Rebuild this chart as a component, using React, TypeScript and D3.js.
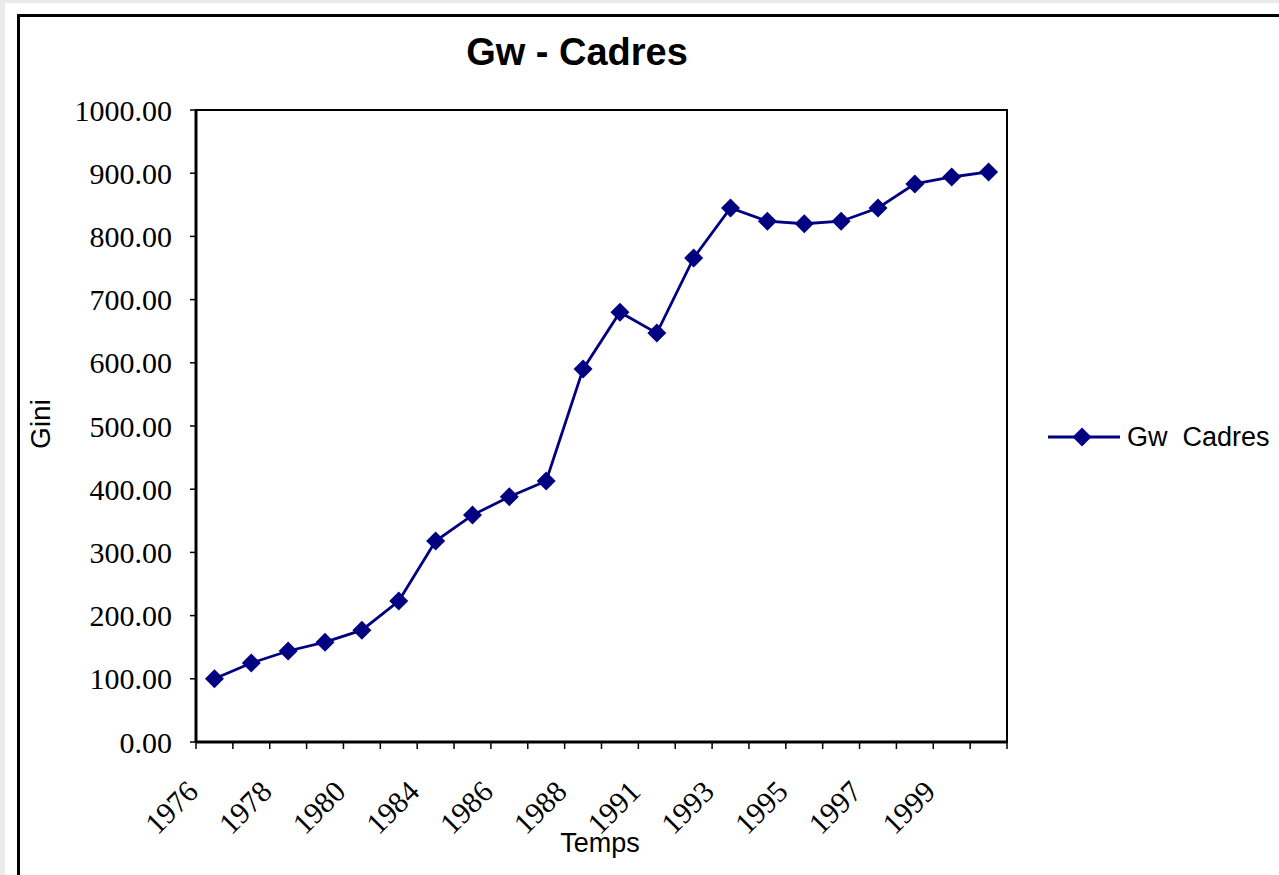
import React from 'react';
import * as d3 from 'd3';

const years = [
  '1976', '1977', '1978', '1979', '1980', '1982', '1984', '1985', '1986', '1987', '1988',
  '1989', '1991', '1992', '1993', '1994', '1995', '1996', '1997', '1998', '1999', '2000',
];
const gwCadres = [
  100, 125, 144, 158, 177, 223, 318, 359, 388, 413, 590,
  680, 647, 766, 845, 824, 820, 824, 845, 883, 894, 902,
];
const yTicks = [0, 100, 200, 300, 400, 500, 600, 700, 800, 900, 1000];
const shownYears = ['1976', '1978', '1980', '1984', '1986', '1988', '1991', '1993', '1995', '1997', '1999'];

const W = 1279;
const H = 875;
const plot = { left: 196, right: 1007, top: 110, bottom: 742 };
const NAVY = '#000080';

function diamond(cx: number, cy: number, r: number) {
  return `M${cx},${cy - r}L${cx + r},${cy}L${cx},${cy + r}L${cx - r},${cy}Z`;
}

export default function App() {
  const x = d3.scaleBand<string>().domain(years).range([plot.left, plot.right]).padding(0);
  const y = d3.scaleLinear().domain([0, 1000]).range([plot.bottom, plot.top]);
  const cx = (yr: string) => (x(yr) as number) + x.bandwidth() / 2;

  const line = d3
    .line<number>()
    .x((d, i) => cx(years[i]))
    .y(d => y(d));

  // tick positions at the band boundaries
  const xTicks = years.map(yr => x(yr) as number).concat([plot.right]);

  return (
    <div style={{ position: 'fixed', left: 0, top: 0, width: W, height: H, background: '#ebebeb' }}>
      <svg width={W} height={H} style={{ display: 'block' }}>
        <rect x={5} y={3} width={W} height={H} fill="#fff" />
        <rect x={18.5} y={15.5} width={W + 20} height={H + 20} fill="none" stroke="#000" strokeWidth={3} />

        <text
          x={577}
          y={65}
          textAnchor="middle"
          fontFamily="'Liberation Sans', Arial, sans-serif"
          fontWeight="bold"
          fontSize={38}
        >
          Gw - Cadres
        </text>

        {/* plot frame */}
        <rect
          x={plot.left}
          y={plot.top}
          width={plot.right - plot.left}
          height={plot.bottom - plot.top}
          fill="#fff"
          stroke="#000"
          strokeWidth={2}
        />
        <line x1={plot.left} x2={plot.left} y1={plot.top} y2={plot.bottom + 1} stroke="#000" strokeWidth={3} />
        <line x1={plot.left} x2={plot.right} y1={plot.bottom} y2={plot.bottom} stroke="#000" strokeWidth={3} />

        {/* y axis */}
        {yTicks.map(t => (
          <g key={t}>
            <line x1={plot.left - 6} x2={plot.left} y1={y(t)} y2={y(t)} stroke="#000" strokeWidth={1.5} />
            <text
              x={172}
              y={y(t)}
              dy="0.35em"
              textAnchor="end"
              fontFamily="'Liberation Serif', 'Times New Roman', serif"
              fontSize={30}
            >
              {t.toFixed(2)}
            </text>
          </g>
        ))}

        {/* x axis */}
        {xTicks.map((t, i) => (
          <line key={i} x1={t} x2={t} y1={plot.bottom} y2={plot.bottom + 7} stroke="#000" strokeWidth={1.5} />
        ))}
        {shownYears.map(yr => (
          <text
            key={yr}
            transform={`translate(${cx(yr) - 22},${plot.bottom + 44}) rotate(-45)`}
            dy="0.35em"
            textAnchor="end"
            fontFamily="'Liberation Serif', 'Times New Roman', serif"
            fontSize={30}
          >
            {yr}
          </text>
        ))}

        <text
          x={600}
          y={852}
          textAnchor="middle"
          fontFamily="'Liberation Sans', Arial, sans-serif"
          fontSize={27}
        >
          Temps
        </text>
        <text
          transform="translate(50,424) rotate(-90)"
          textAnchor="middle"
          fontFamily="'Liberation Sans', Arial, sans-serif"
          fontSize={28}
        >
          Gini
        </text>

        {/* series */}
        <path d={line(gwCadres) || ''} fill="none" stroke={NAVY} strokeWidth={2.8} />
        {gwCadres.map((v, i) => (
          <path key={i} d={diamond(cx(years[i]), y(v), 9.5)} fill={NAVY} />
        ))}

        {/* legend */}
        <line x1={1048} x2={1120} y1={437} y2={437} stroke={NAVY} strokeWidth={2.8} />
        <path d={diamond(1082, 437, 9.5)} fill={NAVY} />
        <text
          x={1127}
          y={446}
          fontFamily="'Liberation Sans', Arial, sans-serif"
          fontSize={27}
          style={{ whiteSpace: 'pre' }}
        >
          {'Gw  Cadres'}
        </text>
      </svg>
    </div>
  );
}
